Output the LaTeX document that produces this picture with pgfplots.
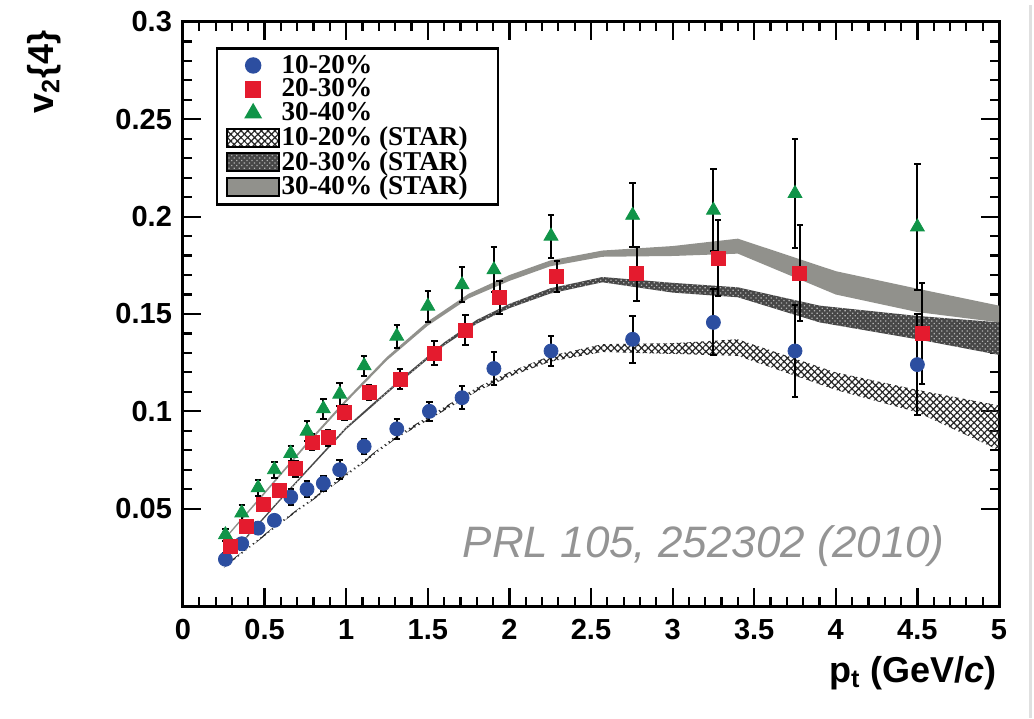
\documentclass[border=0pt]{standalone}
\usepackage{pgfplots}
\pgfplotsset{compat=1.18}
\usepackage{pgfplotstable}
\usepgfplotslibrary{fillbetween}
\usetikzlibrary{patterns,patterns.meta}
\usepackage{fontspec}
\setmainfont{Liberation Sans}
\newfontfamily\legfont{Liberation Serif}

\definecolor{cblue}{RGB}{44,78,160}
\definecolor{cred}{RGB}{228,27,46}
\definecolor{cgreen}{RGB}{16,148,72}
\definecolor{cband}{RGB}{145,145,140}

% measured v2{4}: x, y, error
\pgfplotstableread{
x y e
0.26 0.024 0.003
0.36 0.032 0.003
0.46 0.040 0.003
0.56 0.044 0.003
0.66 0.056 0.004
0.76 0.060 0.004
0.86 0.063 0.004
0.96 0.070 0.005
1.11 0.082 0.004
1.31 0.091 0.005
1.51 0.100 0.005
1.71 0.107 0.006
1.905 0.122 0.0085
2.255 0.131 0.0077
2.755 0.137 0.012
3.25 0.1457 0.017
3.75 0.131 0.0235
4.50 0.124 0.026
}\cenA
\pgfplotstableread{
x y e
0.29 0.0306 0.003
0.39 0.041 0.003
0.49 0.052 0.003
0.59 0.0594 0.003
0.69 0.0705 0.004
0.79 0.0842 0.004
0.89 0.0864 0.004
0.99 0.0993 0.004
1.14 0.1097 0.004
1.33 0.1165 0.005
1.54 0.130 0.006
1.73 0.1418 0.0075
1.94 0.1586 0.0086
2.29 0.1694 0.008
2.78 0.1706 0.0137
3.28 0.1787 0.0195
3.78 0.171 0.0245
4.53 0.140 0.026
}\cenB
\pgfplotstableread{
x y e
0.26 0.0366 0.003
0.36 0.0478 0.004
0.46 0.0607 0.004
0.56 0.070 0.004
0.66 0.0784 0.004
0.76 0.0898 0.005
0.86 0.1013 0.005
0.96 0.1088 0.006
1.11 0.1234 0.005
1.31 0.1386 0.006
1.50 0.154 0.008
1.71 0.165 0.009
1.905 0.1727 0.0115
2.255 0.190 0.011
2.755 0.2007 0.0165
3.25 0.2033 0.021
3.75 0.2119 0.028
4.50 0.1947 0.0325
}\cenC

% STAR bands: x, lower, upper
\pgfplotstableread{
x lo hi
0.25 0.0195 0.0205
0.6 0.0425 0.0435
1.0 0.0667 0.068
1.3 0.0857 0.0872
1.6 0.1003 0.1022
1.8 0.1102 0.1122
2.0 0.1178 0.1202
2.25 0.1255 0.1285
2.57 0.1305 0.1345
3.0 0.1295 0.135
3.4 0.1285 0.137
4.0 0.111 0.120
4.5 0.0995 0.111
5.0 0.080 0.103
}\starA
\pgfplotstableread{
x lo hi
0.3 0.0265 0.0275
0.6 0.0545 0.0555
1.0 0.0908 0.092
1.3 0.1128 0.1142
1.6 0.1338 0.1354
1.8 0.1450 0.1470
2.0 0.1530 0.1552
2.25 0.1605 0.1632
2.57 0.1663 0.1690
3.0 0.1610 0.1660
3.4 0.1586 0.1637
3.9 0.1457 0.1543
4.5 0.137 0.149
5.0 0.129 0.1457
}\starB
\pgfplotstableread{
x lo hi
0.25 0.0335 0.0345
0.5 0.0575 0.0587
0.75 0.0817 0.0831
1.0 0.1047 0.1063
1.25 0.1262 0.1280
1.5 0.1440 0.1462
1.75 0.1580 0.1604
2.0 0.1670 0.1700
2.25 0.1745 0.1775
2.57 0.1794 0.1826
3.0 0.1798 0.1849
3.4 0.181 0.1887
4.0 0.160 0.172
4.5 0.151 0.163
5.0 0.1457 0.1543
}\starC

\tikzset{
  bandA/.style={pattern={Hatch[angle=45,distance=2.4pt,line width=0.6pt]}, pattern color=black!85},
  bandB/.style={fill=black!72, postaction={pattern={Dots[distance=1.8pt,radius=0.45pt,angle=45]}, pattern color=black!30}},
  bandC/.style={fill=cband},
}

\begin{document}
\begin{tikzpicture}
\begin{axis}[
    scale only axis,
    width=408pt, height=292pt,
    xmin=0, xmax=5, ymin=0, ymax=0.3,
    xtick={0,0.5,...,5},
    ytick={0.05,0.1,0.15,0.2,0.25,0.3},
    yticklabels={0.05,0.1,0.15,0.2,0.25,0.3},
    minor x tick num=4, minor y tick num=4,
    tick align=inside,
    major tick length=9pt, minor tick length=4.5pt,
    every tick/.style={black, line width=1.1pt},
    axis line style={line width=1.5pt},
    /pgf/number format/assume math mode=true,
    ticklabel style={font=\fontsize{14.5}{14.5}\selectfont\bfseries},
    xticklabel style={yshift=-3pt},
    yticklabel style={xshift=-2pt},
    xlabel={p\textsubscript{t} (GeV/\textit{c})},
    ylabel={v\textsubscript{2}\{4\}},
    label style={font=\fontsize{18}{18}\selectfont\bfseries, inner sep=0pt},
    xlabel style={at={(axis description cs:0.9975,-0.085)}, anchor=north east},
    ylabel style={at={(axis description cs:-0.17,0.986)}, anchor=east},
    legend style={at={(axis description cs:0.0404,0.957)}, anchor=north west,
        draw=black, line width=1.2pt, inner xsep=4.5pt, inner ysep=2.6pt,
        font=\legfont\bfseries\fontsize{13.6}{14}\selectfont,
        row sep=0pt,
        nodes={inner sep=0.7pt, line width=1pt}},
    legend cell align=left,
    legend image code/.code={\draw[mark repeat=2,mark phase=2,#1] plot coordinates {(0pt,0pt) (13pt,0pt) (26pt,0pt)};},
    error bars/error bar style={line width=1pt, black},
    error bars/error mark options={line width=1pt, black, mark size=1.6pt, rotate=90},
]

% STAR bands
\addplot[name path=la, draw=none, forget plot] table[x=x, y=lo] {\starA};
\addplot[name path=ua, draw=none, forget plot] table[x=x, y=hi] {\starA};
\addplot[bandA, forget plot] fill between[of=la and ua];
\addplot[name path=lb, draw=none, forget plot] table[x=x, y=lo] {\starB};
\addplot[name path=ub, draw=none, forget plot] table[x=x, y=hi] {\starB};
\addplot[bandB, forget plot] fill between[of=lb and ub];
\addplot[name path=lc, draw=none, forget plot] table[x=x, y=lo] {\starC};
\addplot[name path=uc, draw=none, forget plot] table[x=x, y=hi] {\starC};
\addplot[bandC, forget plot] fill between[of=lc and uc];

% measured points
\addplot[only marks, mark=*, mark size=3.5pt, mark options={draw=cblue, fill=cblue},
    error bars/.cd, y dir=both, y explicit]
    table[x=x, y=y, y error=e] {\cenA};
\addlegendentry{10-20\%}
\addplot[only marks, mark=square*, mark size=3.5pt, mark options={draw=cred, fill=cred},
    error bars/.cd, y dir=both, y explicit]
    table[x=x, y=y, y error=e] {\cenB};
\addlegendentry{20-30\%}
\addplot[only marks, mark=triangle*, mark size=4pt, mark options={draw=cgreen, fill=cgreen},
    error bars/.cd, y dir=both, y explicit]
    table[x=x, y=y, y error=e] {\cenC};
\addlegendentry{30-40\%}

\addlegendimage{legend image code/.code={\draw[line width=1pt, bandA] (0pt,-4.5pt) rectangle (26pt,4.5pt);}}
\addlegendentry{10-20\% (STAR)\hspace*{10pt}}
\addlegendimage{legend image code/.code={\draw[line width=1pt, bandB] (0pt,-4.5pt) rectangle (26pt,4.5pt);}}
\addlegendentry{20-30\% (STAR)}
\addlegendimage{legend image code/.code={\draw[line width=1pt, bandC] (0pt,-4.5pt) rectangle (26pt,4.5pt);}}
\addlegendentry{30-40\% (STAR)}

\node[anchor=east, font=\fontsize{22}{22}\selectfont\itshape, text=black!42, inner sep=0pt]
    at (axis cs:4.67,0.031) {PRL 105, 252302 (2010)};
\end{axis}
\pgfresetboundingbox
\path[use as bounding box] ([xshift=-91.5pt,yshift=-56pt]current axis.south west)
    rectangle ([xshift=17.5pt,yshift=11pt]current axis.north east);
\draw[black!12, line width=1.5pt] ([xshift=15.5pt,yshift=8.5pt]current axis.north east)
    -- ([xshift=15.5pt,yshift=-56pt]current axis.south east);
\end{tikzpicture}
\end{document}
